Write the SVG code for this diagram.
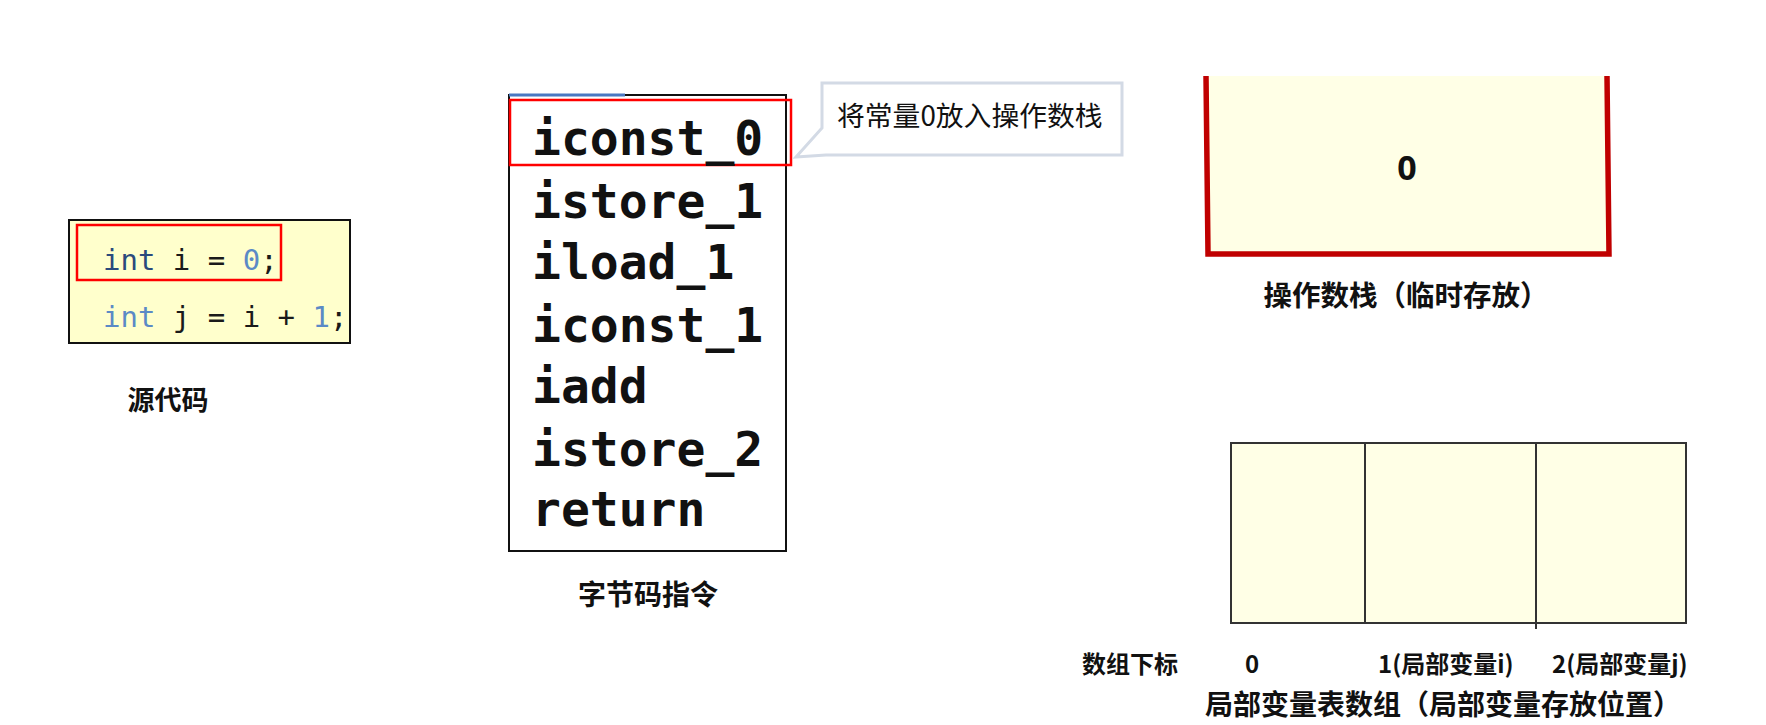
<svg xmlns="http://www.w3.org/2000/svg" width="1766" height="725" viewBox="0 0 1766 725">
<style>
.code{font-family:"DejaVu Sans Mono","Liberation Mono",monospace;font-size:29px;fill:#1a1a1a}
.bc{font-family:"DejaVu Sans Mono","Liberation Mono",monospace;font-size:48px;font-weight:bold;fill:#111}
.cap{font-family:"Noto Sans CJK SC","Noto Sans",sans-serif;font-weight:bold;fill:#111}
.note{font-family:"Noto Sans CJK SC","Noto Sans",sans-serif;font-size:27.8px;fill:#111}
.hl{fill:none;stroke:#FF0000;stroke-width:2.5}
.cell{fill:#FFFFE6;stroke:#333;stroke-width:2}
</style>
<rect width="1766" height="725" fill="#fff"/>
<g id="connectors"/>
<g id="source">
<rect x="69" y="220" width="281" height="123" fill="#FFFFCC" stroke="#111" stroke-width="2"/>
<rect class="hl" x="77" y="225" width="204" height="55" stroke-width="3"/>
<text class="code" x="103" y="270"><tspan fill="#2B4A7C">int</tspan> i = <tspan fill="#5B8AC6">0</tspan>;</text>
<text class="code" x="103" y="327"><tspan fill="#5B8AC6">int</tspan> j = i + <tspan fill="#5B8AC6">1</tspan>;</text>
<text class="cap" x="168" y="410" font-size="27" text-anchor="middle">源代码</text>
</g>
<g id="bytecode">
<rect x="509" y="95" width="277" height="456" fill="#fff" stroke="#111" stroke-width="2"/>
<line x1="509" y1="95" x2="625" y2="95" stroke="#4A78C2" stroke-width="3"/>
<rect class="hl" x="510" y="100" width="281" height="65"/>
<text class="bc" x="532" y="155">iconst_0</text>
<text class="bc" x="532" y="218">istore_1</text>
<text class="bc" x="532" y="279">iload_1</text>
<text class="bc" x="532" y="342">iconst_1</text>
<text class="bc" x="532" y="403">iadd</text>
<text class="bc" x="532" y="466">istore_2</text>
<text class="bc" x="532" y="526">return</text>
<text class="cap" x="648" y="605" font-size="28" text-anchor="middle">字节码指令</text>
</g>
<g id="callout">
<path d="M822,83 H1122 V155 H826 L796,157 L822,128 Z" fill="#fff" stroke="#D3DAE5" stroke-width="3"/>
<text class="note" x="837" y="126">将常量0放入操作数栈</text>
</g>
<g id="stack">
<rect x="1206" y="76" width="401" height="178" fill="#FFFFE6"/>
<polyline points="1206,76 1208,254 1609,254 1607,76" fill="none" stroke="#C00000" stroke-width="5.5"/>
<text x="1407" y="180" font-family="'Noto Sans','Liberation Sans',sans-serif" font-size="34" font-weight="bold" text-anchor="middle" fill="#111">0</text>
<text class="cap" x="1406" y="306" font-size="28.5" text-anchor="middle">操作数栈（临时存放）</text>
</g>
<g id="locals">
<rect class="cell" x="1231" y="443" width="134" height="180"/>
<rect class="cell" x="1365" y="443" width="171" height="180"/>
<rect class="cell" x="1536" y="443" width="150" height="180"/>
<line x1="1536" y1="623" x2="1536" y2="629" stroke="#333" stroke-width="2"/>
<text class="cap" x="1082" y="673" font-size="24">数组下标</text>
<text class="cap" x="1252" y="673" font-size="24" text-anchor="middle">0</text>
<text class="cap" x="1378" y="673" font-size="24">1(局部变量i)</text>
<text class="cap" x="1552" y="673" font-size="24">2(局部变量j)</text>
<text class="cap" x="1443" y="715" font-size="28" text-anchor="middle">局部变量表数组（局部变量存放位置）</text>
</g>
</svg>
